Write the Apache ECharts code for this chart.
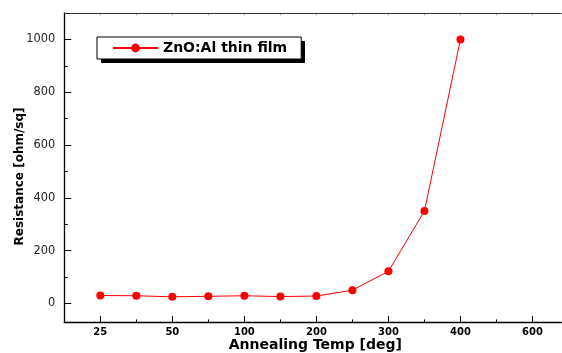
<!DOCTYPE html>
<html>
<head>
<meta charset="utf-8">
<script src="https://cdn.jsdelivr.net/npm/echarts@6/dist/echarts.min.js"></script>
<style>html,body{margin:0;padding:0;background:#fff;}#c{width:562px;height:353px;}</style>
</head>
<body>
<div id="c"></div>
<script>
// x slots: label per slot ('' = unlabeled minor slot)
const slotLabels = ['25', '', '50', '', '100', '', '200', '', '300', '', '400', '', '600'];
// data points sit on slots 0..10
const pointSlots = [0, 1, 2, 3, 4, 5, 6, 7, 8, 9, 10];
const resistance = [30, 29, 25, 27, 29, 26, 28, 50, 122, 350, 1000];
const yMajorTicks = [0, 200, 400, 600, 800, 1000];
const yMinorTicks = [100, 300, 500, 700, 900];
const seriesName = 'ZnO:Al thin film';

const majorSlots = slotLabels.map((l, i) => l !== '' ? i : null).filter(v => v !== null);
const minorSlots = slotLabels.map((l, i) => l === '' ? i : null).filter(v => v !== null);
const allSlots = slotLabels.map((l, i) => i);

const FONT = 'DejaVu Sans';
const X_MIN = -1, X_MAX = 12.8, Y_MIN = -70, Y_MAX = 1100;

const chart = echarts.init(document.getElementById('c'));
chart.setOption({
  animation: false,
  backgroundColor: '#fff',
  grid: { left: 64.3, top: 13, width: 497, height: 308.9, containLabel: false, outerBoundsMode: 'none' },
  graphic: [{
    type: 'rect', left: 101, top: 41, z: 1, silent: true,
    shape: { width: 204, height: 22 },
    style: { fill: '#000' }
  }],
  legend: {
    data: [seriesName],
    left: 97, top: 37,
    orient: 'horizontal',
    padding: [4, 14, 4, 15],
    itemWidth: 45, itemHeight: 11,
    backgroundColor: '#fff',
    borderColor: '#000', borderWidth: 1,
    textStyle: { fontFamily: FONT, fontWeight: 'bold', fontSize: 14, color: '#000' }
  },
  xAxis: [
    {
      type: 'value', min: X_MIN, max: X_MAX, position: 'bottom',
      name: 'Annealing Temp [deg]', nameLocation: 'middle', nameGap: 16, nameMoveOverlap: false,
      nameTextStyle: { fontFamily: FONT, fontWeight: 'bold', fontSize: 14, color: '#000', padding: [0, 0, 0, 5] },
      axisLine: { show: true, onZero: false, lineStyle: { color: '#000', width: 1.3 } },
      axisTick: { show: true, inside: true, length: 6, customValues: majorSlots, lineStyle: { color: '#000', width: 1 } },
      axisLabel: { show: true, margin: 6, customValues: majorSlots,
        formatter: v => slotLabels[Math.round(v)] || '',
        fontFamily: FONT, fontWeight: 'bold', fontSize: 10, color: '#000' },
      splitLine: { show: false }
    },
    {
      type: 'value', min: X_MIN, max: X_MAX, position: 'bottom',
      axisLine: { show: false, onZero: false },
      axisTick: { show: true, inside: true, length: 2.5, customValues: minorSlots, lineStyle: { color: '#000', width: 1 } },
      axisLabel: { show: false },
      splitLine: { show: false }
    },
    {
      type: 'value', min: X_MIN, max: X_MAX, position: 'top',
      axisLine: { show: true, onZero: false, lineStyle: { color: '#333', width: 1 } },
      axisTick: { show: true, inside: true, length: 1.5, customValues: allSlots, lineStyle: { color: '#333', width: 1 } },
      axisLabel: { show: false },
      splitLine: { show: false }
    }
  ],
  yAxis: [
    {
      type: 'value', min: Y_MIN, max: Y_MAX, position: 'left',
      name: 'Resistance [ohm/sq]', nameLocation: 'middle', nameGap: 38, nameRotate: 90, nameMoveOverlap: false,
      nameTextStyle: { fontFamily: FONT, fontWeight: 'bold', fontSize: 12, color: '#000', padding: [0, 18, 0, 0] },
      axisLine: { show: true, onZero: false, lineStyle: { color: '#000', width: 1.3 } },
      axisTick: { show: true, inside: true, length: 7, customValues: yMajorTicks, lineStyle: { color: '#000', width: 1 } },
      axisLabel: { show: true, margin: 9, customValues: yMajorTicks,
        formatter: v => String(v),
        fontFamily: FONT, fontSize: 11.4, color: '#222' },
      splitLine: { show: false }
    },
    {
      type: 'value', min: Y_MIN, max: Y_MAX, position: 'left', offset: 0,
      axisLine: { show: false, onZero: false },
      axisTick: { show: true, inside: true, length: 3.5, customValues: yMinorTicks, lineStyle: { color: '#000', width: 1 } },
      axisLabel: { show: false },
      splitLine: { show: false }
    }
  ],
  series: [{
    name: seriesName,
    type: 'line',
    xAxisIndex: 0, yAxisIndex: 0,
    data: pointSlots.map((s, i) => [s, resistance[i]]),
    symbol: 'circle', symbolSize: 8,
    lineStyle: { color: '#ff0000', width: 1 },
    itemStyle: { color: '#ff0000' }
  }]
});
</script>
</body>
</html>
